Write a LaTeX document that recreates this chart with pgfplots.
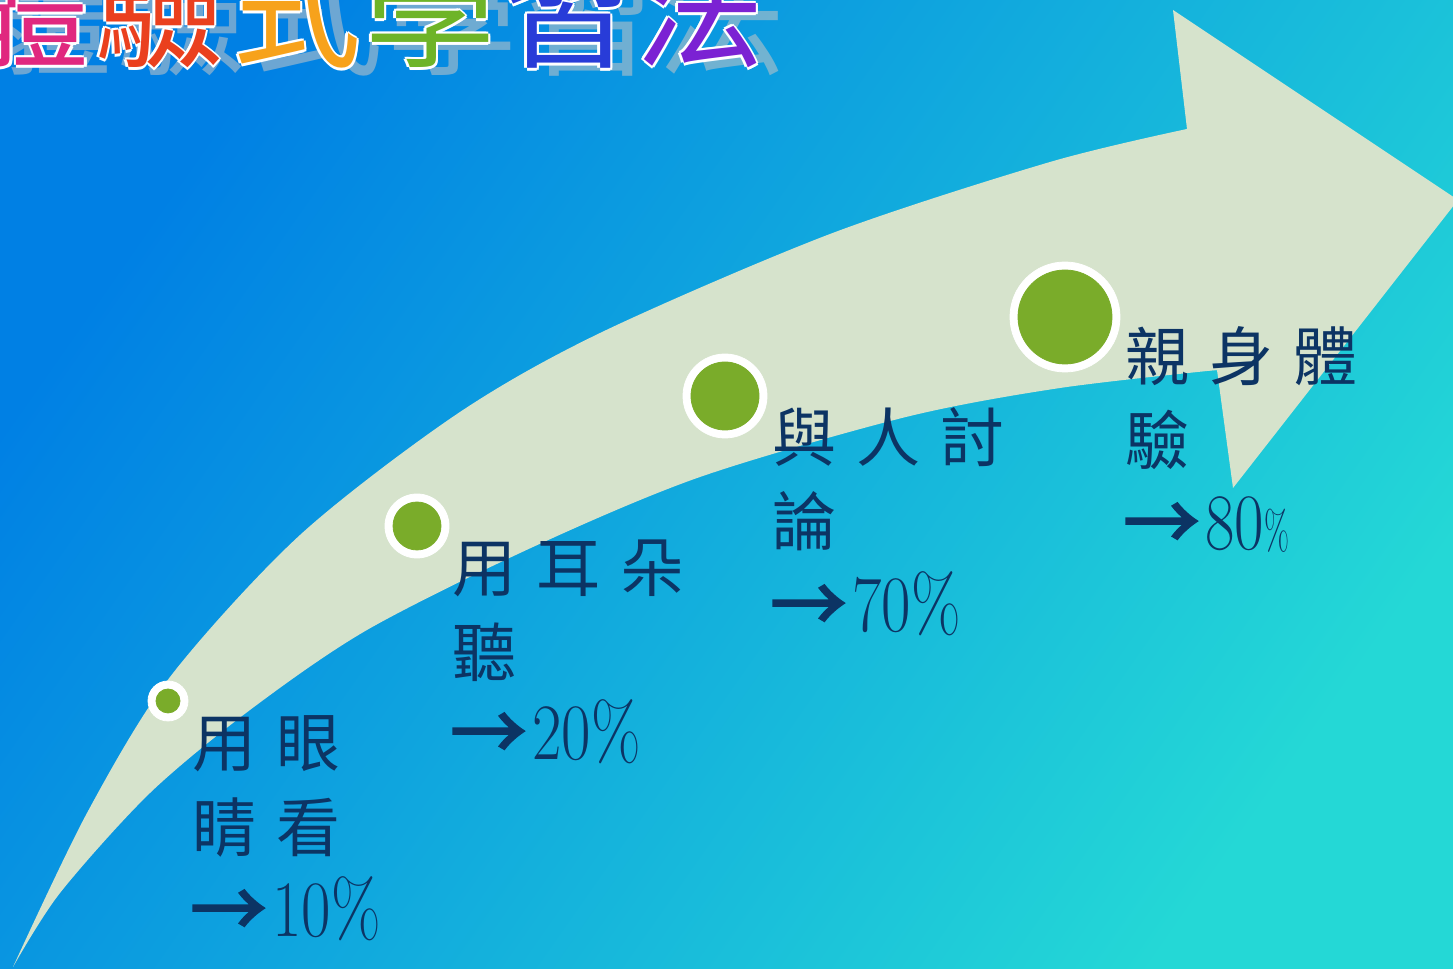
\documentclass[border=0pt]{standalone}
\usepackage{pgfplots}
\pgfplotsset{compat=1.18}
\usepackage{pgfplotstable}
\usepgfplotslibrary{fillbetween}
\usepackage{graphicx}
\usepackage{fontspec}
\newfontfamily\cjk{Noto Sans CJK TC}
\newfontfamily\cjkb[FakeBold=3]{Noto Sans CJK TC}

\definecolor{bgTL}{RGB}{0,128,228}
\definecolor{bgMid}{RGB}{14,166,226}
\definecolor{bgBR}{RGB}{36,216,214}
\definecolor{arrowfill}{RGB}{214,227,204}
\definecolor{dotgreen}{RGB}{122,172,42}
\definecolor{navy}{RGB}{12,52,100}
\definecolor{tPink}{RGB}{224,40,127}
\definecolor{tRed}{RGB}{234,64,30}
\definecolor{tOrange}{RGB}{247,162,27}
\definecolor{tGreen}{RGB}{110,180,40}
\definecolor{tBlue}{RGB}{40,60,216}
\definecolor{tPurple}{RGB}{123,34,211}

% circles on the arrow: centre and radii in pixels
\pgfplotstableread{
x    y   ro  ri  pct
168  701 20  12  10
417  526 32  24  20
725  396 42  34  70
1065 317 55  47  80
}\dots

\newcommand\gap{\hspace{10pt}}
\newcommand\arr{{\cjkb\fontsize{38}{38}\selectfont →}\hspace{3pt}}
\newcommand\pnum[1]{\scalebox{0.8}[1]{\rmfamily\fontsize{40}{40}\selectfont #1}}

% one title glyph: x centre, colour, glyph
\newcommand\tchar[3]{%
  \node[ttl, text=gray!45, opacity=0.55] at (axis cs:#1+22,66) {#3};
  \node[ttl, text=white] at (axis cs:#1-2.5,58) {#3};
  \node[ttl, text=white] at (axis cs:#1+2.5,58) {#3};
  \node[ttl, text=white] at (axis cs:#1,55.5) {#3};
  \node[ttl, text=white] at (axis cs:#1,60.5) {#3};
  \node[ttl, text=white] at (axis cs:#1-2,56) {#3};
  \node[ttl, text=white] at (axis cs:#1+2,60) {#3};
  \node[ttl, text=#2] at (axis cs:#1,58) {#3};
}

\begin{document}
\begin{tikzpicture}[
    lbl/.style={inner sep=0pt, text=navy, font=\cjk\fontsize{32}{32}\selectfont},
    ttl/.style={inner sep=0pt, anchor=base, font=\cjk\fontsize{65}{65}\selectfont},
]
\begin{axis}[
    width=726.5pt, height=484.5pt, scale only axis,
    xmin=0, xmax=1453, ymin=0, ymax=969,
    y dir=reverse,
    hide axis,
    fill between/on layer=main,
]
\shade[top color=bgTL, middle color=bgMid, bottom color=bgBR, shading angle=55]
    (axis cs:0,0) rectangle (axis cs:1453,969);
\coordinate (bbA) at (axis cs:0,969);
\coordinate (bbB) at (axis cs:1453,0);

% the big arrow
\addplot[name path=up, draw=none, smooth] coordinates {
    (13,967) (87,813) (170,677) (300,535) (457,414) (600,333)
    (830,234) (1050,162) (1187,129)
};
\addplot[name path=lo, draw=none, smooth] coordinates {
    (13,967) (60,893) (150,793) (250,710) (367,630) (533,547)
    (700,477) (906,417) (1060,388) (1217,370)
};
\addplot[arrowfill] fill between[of=up and lo];
\addplot[fill=arrowfill, draw=none] coordinates {
    (1187,129) (1173,10) (1458,200) (1233,488) (1217,370) (1150,373) (1150,146)
};

% dots
\addplot[scatter, only marks, mark=*,
    scatter/use mapped color={draw=white, fill=white},
    visualization depends on={0.5*\thisrow{ro} \as \rr},
    scatter/@pre marker code/.append style={/tikz/mark size=\rr}]
    table[x=x, y=y] {\dots};
\addplot[scatter, only marks, mark=*,
    scatter/use mapped color={draw=dotgreen, fill=dotgreen},
    visualization depends on={0.5*\thisrow{ri} \as \rr},
    scatter/@pre marker code/.append style={/tikz/mark size=\rr}]
    table[x=x, y=y] {\dots};

% labels
\node[lbl, anchor=west] at (axis cs:192,744) {用\gap 眼};
\node[lbl, anchor=west] at (axis cs:192,828) {睛\gap 看};
\node[lbl, anchor=base west] at (axis cs:190,937) {\arr\pnum{10\%}};

\node[lbl, anchor=west] at (axis cs:452,568) {用\gap 耳\gap 朵};
\node[lbl, anchor=west] at (axis cs:452,652) {聽};
\node[lbl, anchor=base west] at (axis cs:450,760) {\arr\pnum{20\%}};

\node[lbl, anchor=west] at (axis cs:772,437) {與\gap 人\gap 討};
\node[lbl, anchor=west] at (axis cs:772,521) {論};
\node[lbl, anchor=base west] at (axis cs:770,632) {\arr\pnum{70\%}};

\node[lbl, anchor=west] at (axis cs:1125,356) {親\gap 身\gap 體};
\node[lbl, anchor=west] at (axis cs:1125,440) {驗};
\node[lbl, anchor=base west] at (axis cs:1123,550)
    {\arr\pnum{80}\scalebox{0.6}[1]{\rmfamily\fontsize{27}{27}\selectfont\%}};

% title, cut off by the top edge
\tchar{25}{tPink}{體}
\tchar{160}{tRed}{驗}
\tchar{296}{tOrange}{式}
\tchar{430}{tGreen}{學}
\tchar{568}{tBlue}{習}
\tchar{699}{tPurple}{法}
\end{axis}
\pgfresetboundingbox
\path[use as bounding box] (bbA) rectangle (bbB);
\end{tikzpicture}
\end{document}
